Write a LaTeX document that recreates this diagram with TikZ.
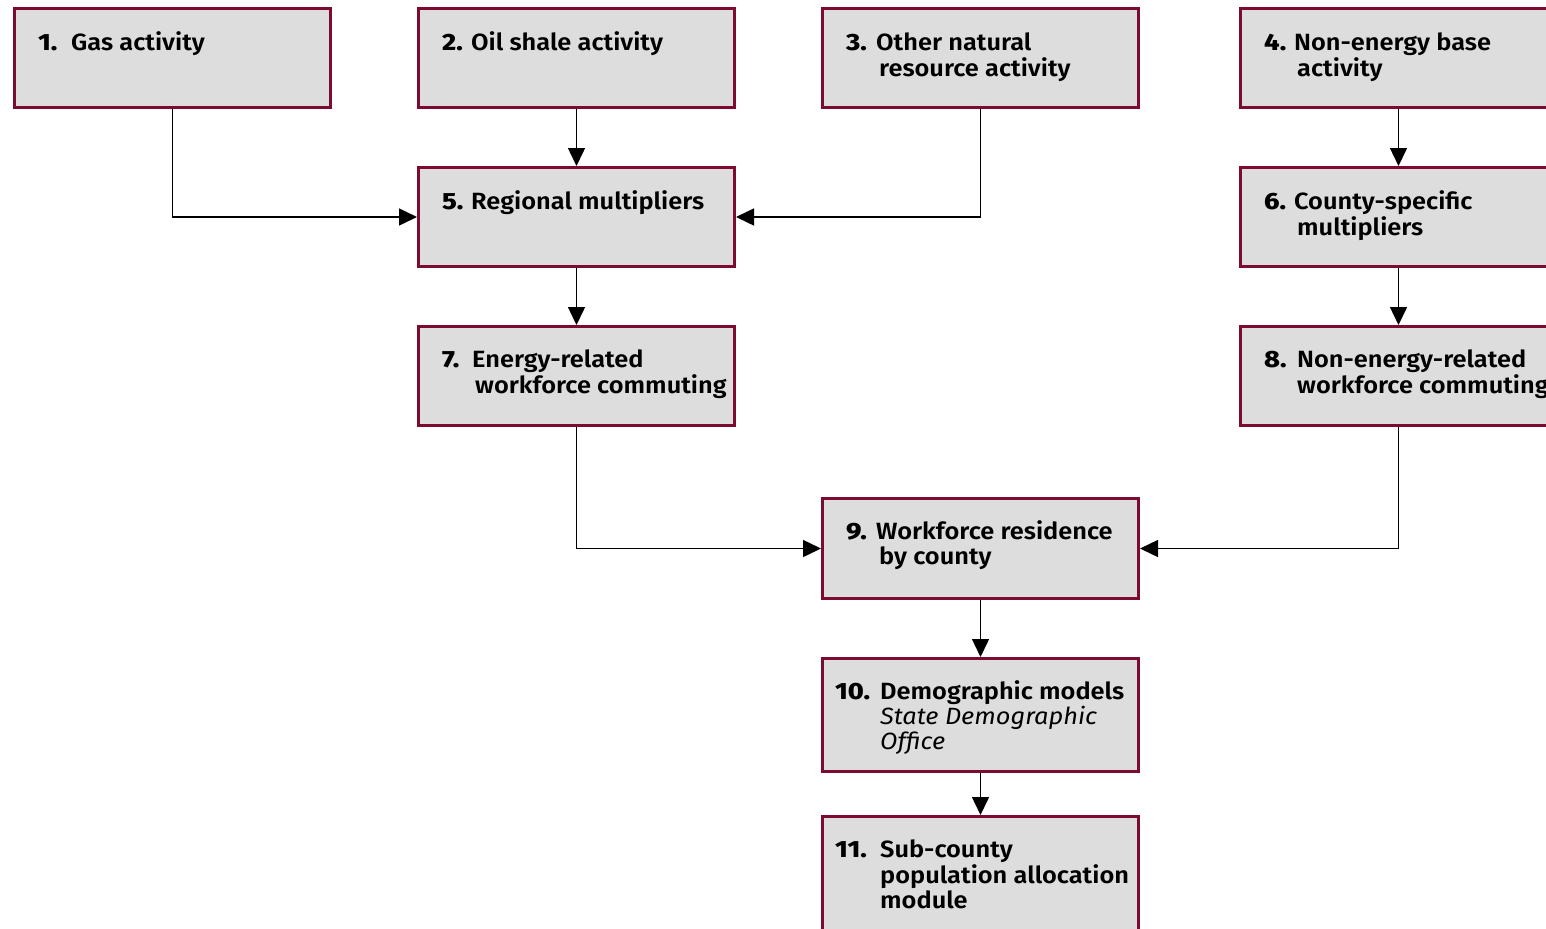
\documentclass[tikz,border=0pt]{standalone}
\usepackage{fontspec}
\setmainfont{Fira Sans}[UprightFont=* SemiBold, BoldFont=* ExtraBold, ItalicFont=* Italic, FakeStretch=1.08, BoldFeatures={FakeStretch=1.15}]
\usetikzlibrary{arrows.meta}
\definecolor{boxred}{HTML}{7D0A30}
\definecolor{boxgray}{HTML}{DDDDDD}
\newcommand{\lblfont}{\fontsize{23.5bp}{25bp}\selectfont}
\tikzset{
  box/.style={draw=boxred, fill=boxgray, line width=3bp, minimum width=316bp, minimum height=99bp, inner sep=0pt, anchor=north west},
  lbl/.style={anchor=base west, inner sep=0pt, font=\lblfont, align=left},
  conn/.style={line width=1.5bp, -{Triangle[length=18bp,width=17bp]}}
}
\begin{document}
\begin{tikzpicture}[x=1bp,y=-1bp]
\useasboundingbox (0,0) rectangle (1546,928);
\clip (0,0) rectangle (1546,928);
% boxes (positions are outer edges)
\node[box] (b1) at (13,7) {};
\node[box] (b2) at (417,7) {};
\node[box] (b3) at (821,7) {};
\node[box] (b4) at (1239,7) {};
\node[box] (b5) at (417,166) {};
\node[box] (b6) at (1239,166) {};
\node[box] (b7) at (417,325) {};
\node[box] (b8) at (1239,325) {};
\node[box, minimum height=100bp] (b9) at (821,497) {};
\node[box, minimum height=113bp] (b10) at (821,657) {};
\node[box, minimum height=130bp] (b11) at (821,815) {};
% labels
\node[lbl] (t1) at (38,50) {\begin{tabular}[t]{@{}p{33bp}@{}l@{}}\textbf{1.} & Gas activity\end{tabular}};
\node[lbl] (t2) at (442,50) {\begin{tabular}[t]{@{}p{29bp}@{}l@{}}\textbf{2.} & Oil shale activity\end{tabular}};
\node[lbl] (t3) at (846,50) {\begin{tabular}[t]{@{}p{30bp}@{}l@{}}\textbf{3.} & Other natural\\ & \hspace{3bp}resource activity\end{tabular}};
\node[lbl] (t4) at (1264,50) {\begin{tabular}[t]{@{}p{30bp}@{}l@{}}\textbf{4.} & Non-energy base\\ & \hspace{3bp}activity\end{tabular}};
\node[lbl] (t5) at (442,209) {\begin{tabular}[t]{@{}p{29bp}@{}l@{}}\textbf{5.} & Regional multipliers\end{tabular}};
\node[lbl] (t6) at (1264,209) {\begin{tabular}[t]{@{}p{30bp}@{}l@{}}\textbf{6.} & County-specific\\ & \hspace{3bp}multipliers\end{tabular}};
\node[lbl] (t7) at (442,367) {\begin{tabular}[t]{@{}p{30bp}@{}l@{}}\textbf{7.} & Energy-related\\ & \hspace{3bp}workforce commuting\end{tabular}};
\node[lbl] (t8) at (1264,367) {\begin{tabular}[t]{@{}p{33bp}@{}l@{}}\textbf{8.} & Non-energy-related\\ & workforce commuting\end{tabular}};
\node[lbl] (t9) at (846,539) {\begin{tabular}[t]{@{}p{30bp}@{}l@{}}\textbf{9.} & Workforce residence\\ & \hspace{3bp}by county\end{tabular}};
\node[lbl] (t10) at (835,699) {\begin{tabular}[t]{@{}p{45bp}@{}l@{}}\textbf{10.} & Demographic models\\ & \textit{State Demographic}\\ & \textit{Office}\end{tabular}};
\node[lbl] (t11) at (835,857) {\begin{tabular}[t]{@{}p{45bp}@{}l@{}}\textbf{11.} & Sub-county\\ & population allocation\\ & module\end{tabular}};
% connectors
\draw[conn] (b1.south) |- (b5.west);
\draw[conn] (b2.south) -- (b5.north);
\draw[conn] (b3.south) |- (b5.east);
\draw[conn] (b4.south) -- (b6.north);
\draw[conn] (b5.south) -- (b7.north);
\draw[conn] (b6.south) -- (b8.north);
\draw[conn] (b7.south) |- (b9.west);
\draw[conn] (b8.south) |- (b9.east);
\draw[conn] (b9.south) -- (b10.north);
\draw[conn] (b10.south) -- (b11.north);
\end{tikzpicture}
\end{document}
